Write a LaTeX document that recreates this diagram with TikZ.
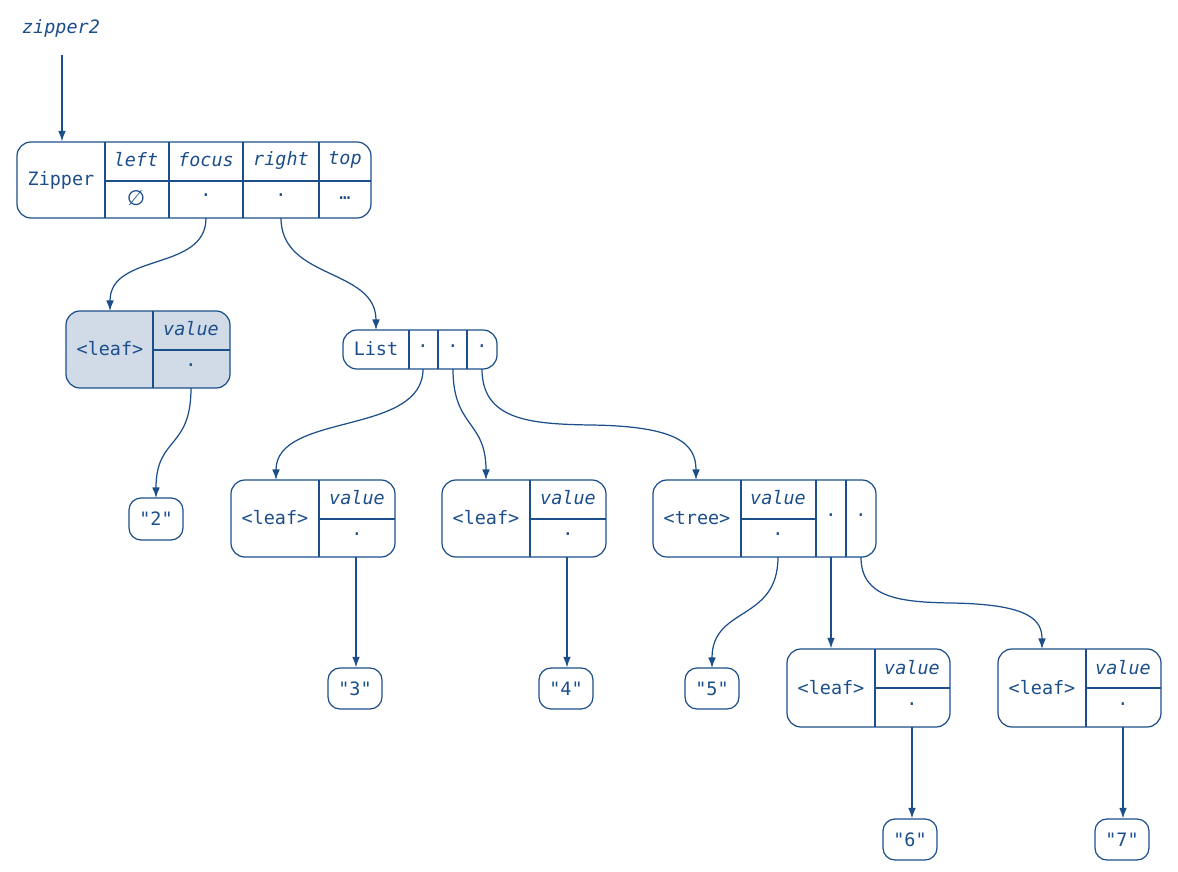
\documentclass[tikz,border=0pt]{standalone}
\usepackage{fontspec}
\setmonofont{DejaVu Sans Mono}
\newfontfamily\symfont{DejaVu Sans}
\usetikzlibrary{fit,arrows.meta}
\definecolor{ink}{RGB}{28,78,138}
\definecolor{leaffill}{RGB}{208,219,231}
\begin{document}
\begin{tikzpicture}[x=0.02cm,y=-0.02cm,
  font=\ttfamily\fontsize{10.5}{12}\selectfont, text=ink,
  box/.style={draw=ink, line width=0.7pt, rounded corners=0.28cm, inner sep=0pt},
  sbox/.style={box, rounded corners=0.24cm},
  div/.style={draw=ink, line width=0.7pt},
  arr/.style={draw=ink, line width=0.7pt, -{Latex[length=6pt,width=4.4pt]}},
  fld/.style={font=\ttfamily\itshape\fontsize{10.5}{12}\selectfont, inner sep=0pt},
  txt/.style={inner sep=0pt}]
\useasboundingbox (0,0) rectangle (1178,872);

% label
\node[fld] (lab) at (61,28) {zipper2};
\coordinate (labout) at (62,55);

% Zipper
\node[box, fit={(17,142) (371,218)}] (zip) {};
\draw[div] (105,142) -- (105,218) (169,142) -- (169,218) (243,142) -- (243,218) (319,142) -- (319,218)
  (105,181) -- (371,181);
\node[txt] (zname) at (61,180) {Zipper};
\node[fld] (zl) at (136,160) {left};
\node[fld] (zf) at (206,160) {focus};
\node[fld] (zr) at (281,160) {right};
\node[fld] (zt) at (345,160) {top};
\node[txt] (zlv) at (136,198) {\symfont\fontsize{12}{12}\selectfont ∅};
\node[txt] (zfv) at (206,198) {·};
\node[txt] (zrv) at (281,198) {·};
\node[txt] (ztv) at (345,198) {…};
\coordinate (zfo) at (206,218);
\coordinate (zro) at (281,218);

% leaf A (highlighted)
\node[box, fill=leaffill, fit={(66,311) (230,388)}] (leafA) {};
\draw[div] (153,311) -- (153,388) (153,350) -- (230,350);
\node[txt] (leafAn) at (110,349) {<leaf>};
\node[fld] (leafAf) at (191,329) {value};
\node[txt] (leafAv) at (191,368) {·};
\coordinate (leafAin) at (110,311);
\coordinate (leafAo) at (191,388);

% "2"
\node[sbox, fit={(129,498) (183,540)}] (s2) {};
\node[txt] at (s2.center) {"2"};
\coordinate (s2in) at (156,498);

% List
\node[box, fit={(343,330) (497,369)}] (lst) {};
\draw[div] (409,330) -- (409,369) (438,330) -- (438,369) (467,330) -- (467,369);
\node[txt] (lstn) at (376,349) {List};
\node[txt] (l1) at (423,349) {·};
\node[txt] (l2) at (453,349) {·};
\node[txt] (l3) at (482,349) {·};
\coordinate (lstin) at (376,330);
\coordinate (l1o) at (423,369);
\coordinate (l2o) at (453,369);
\coordinate (l3o) at (482,369);

% leaf B
\node[box, fit={(231,480) (395,557)}] (leafB) {};
\draw[div] (319,480) -- (319,557) (319,519) -- (395,519);
\node[txt] at (275,518) {<leaf>};
\node[fld] at (357,498) {value};
\node[txt] at (357,537) {·};
\coordinate (leafBin) at (276,480);
\coordinate (leafBo) at (356,557);

% leaf C
\node[box, fit={(442,480) (606,557)}] (leafC) {};
\draw[div] (530,480) -- (530,557) (530,519) -- (606,519);
\node[txt] at (486,518) {<leaf>};
\node[fld] at (568,498) {value};
\node[txt] at (568,537) {·};
\coordinate (leafCin) at (486,480);
\coordinate (leafCo) at (567,557);

% tree
\node[box, fit={(653,480) (876,557)}] (tree) {};
\draw[div] (741,480) -- (741,557) (816,480) -- (816,557) (846,480) -- (846,557) (741,519) -- (816,519);
\node[txt] at (697,518) {<tree>};
\node[fld] at (778,498) {value};
\node[txt] at (778,537) {·};
\node[txt] at (831,518) {·};
\node[txt] at (861,518) {·};
\coordinate (treein) at (696,480);
\coordinate (treev) at (778,557);
\coordinate (tree1) at (831,557);
\coordinate (tree2) at (861,557);

% strings 3 4 5
\node[sbox, fit={(328,668) (382,709)}] (s3) {};
\node[txt] at (s3.center) {"3"};
\node[sbox, fit={(539,668) (593,709)}] (s4) {};
\node[txt] at (s4.center) {"4"};
\node[sbox, fit={(685,668) (739,709)}] (s5) {};
\node[txt] at (s5.center) {"5"};
\coordinate (s5in) at (712,668);

% leaf D
\node[box, fit={(787,649) (950,727)}] (leafD) {};
\draw[div] (875,649) -- (875,727) (875,688) -- (950,688);
\node[txt] at (831,688) {<leaf>};
\node[fld] at (912,668) {value};
\node[txt] at (912,707) {·};
\coordinate (leafDo) at (912,727);

% leaf E
\node[box, fit={(998,649) (1161,727)}] (leafE) {};
\draw[div] (1086,649) -- (1086,727) (1086,688) -- (1161,688);
\node[txt] at (1042,688) {<leaf>};
\node[fld] at (1123,668) {value};
\node[txt] at (1123,707) {·};
\coordinate (leafEin) at (1042,649);
\coordinate (leafEo) at (1123,727);

% strings 6 7
\node[sbox, fit={(883,819) (937,860)}] (s6) {};
\node[txt] at (s6.center) {"6"};
\node[sbox, fit={(1095,819) (1149,860)}] (s7) {};
\node[txt] at (s7.center) {"7"};

% connectors
\draw[arr] (labout) -- (labout |- zip.north);
\draw[arr] (zfo) .. controls (206,272) and (110,252) .. (leafAin);
\draw[arr] (zro) .. controls (281,280) and (376,268) .. (lstin);
\draw[arr] (leafAo) .. controls (191,450) and (156,436) .. (s2in);
\draw[arr] (l1o) .. controls (423,436) and (276,412) .. (leafBin);
\draw[arr] (l2o) .. controls (453,428) and (486,420) .. (leafCin);
\draw[arr] (l3o) .. controls (482,420) and (530,424) .. (590,425) .. controls (680,426) and (696,445) .. (treein);
\draw[arr] (leafBo) -- (leafBo |- s3.north);
\draw[arr] (leafCo) -- (leafCo |- s4.north);
\draw[arr] (treev) .. controls (778,622) and (712,606) .. (s5in);
\draw[arr] (tree1) -- (tree1 |- leafD.north);
\draw[arr] (tree2) .. controls (861,598) and (900,602) .. (950,603) .. controls (1030,604) and (1042,620) .. (leafEin);
\draw[arr] (leafDo) -- (leafDo |- s6.north);
\draw[arr] (leafEo) -- (leafEo |- s7.north);
\end{tikzpicture}
\end{document}
